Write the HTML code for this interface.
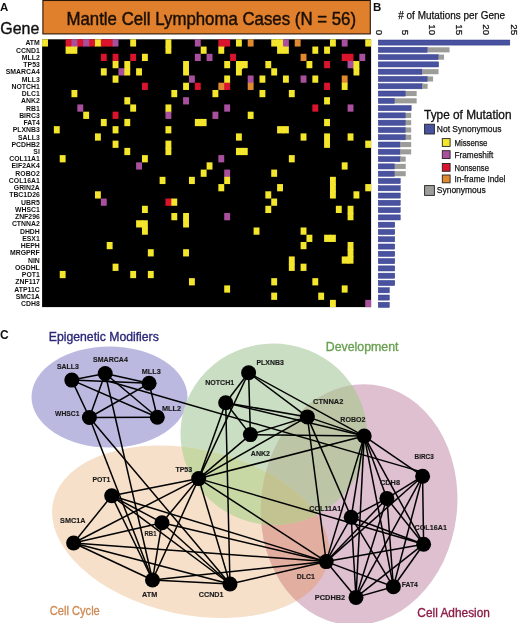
<!DOCTYPE html><html><head><meta charset="utf-8"><style>html,body{margin:0;padding:0;background:#fff;width:520px;height:623px;overflow:hidden}svg{display:block}text{font-family:"Liberation Sans",Arial,sans-serif}</style></head><body>
<svg width="520" height="623" viewBox="0 0 520 623">
<rect width="520" height="623" fill="#fff"/>
<text x="0" y="11.2" font-size="11.5" font-weight="bold" fill="#111">A</text>
<text x="0.3" y="33.6" font-size="16.8" fill="#111" stroke="#111" stroke-width="0.4" textLength="39" lengthAdjust="spacingAndGlyphs">Gene</text>
<rect x="42.9" y="0.5" width="327.4" height="33.4" fill="#e0802c" stroke="#2a1606" stroke-width="1.1"/>
<text x="66.5" y="24.6" font-size="17.8" fill="#1b0f05" stroke="#1b0f05" stroke-width="0.45" textLength="289.5" lengthAdjust="spacingAndGlyphs">Mantle Cell Lymphoma Cases (N = 56)</text>
<rect x="42.1" y="39.3" width="329.00" height="267.80" fill="#000"/>
<rect x="42.10" y="39.30" width="5.88" height="7.24" fill="#f4e62c"/>
<rect x="65.60" y="39.30" width="6.78" height="8.14" fill="#d9142c"/>
<rect x="71.47" y="39.30" width="6.78" height="8.14" fill="#a8509e"/>
<rect x="77.35" y="39.30" width="6.78" height="7.24" fill="#d9142c"/>
<rect x="83.22" y="39.30" width="6.78" height="7.24" fill="#a8509e"/>
<rect x="89.10" y="39.30" width="6.78" height="7.24" fill="#d9142c"/>
<rect x="94.97" y="39.30" width="6.78" height="7.24" fill="#f4e62c"/>
<rect x="100.85" y="39.30" width="6.78" height="7.24" fill="#d9142c"/>
<rect x="106.72" y="39.30" width="6.78" height="7.24" fill="#d9142c"/>
<rect x="112.60" y="39.30" width="5.88" height="7.24" fill="#a8509e"/>
<rect x="130.22" y="39.30" width="5.88" height="7.24" fill="#f4e62c"/>
<rect x="165.47" y="39.30" width="5.88" height="8.14" fill="#f4e62c"/>
<rect x="194.85" y="39.30" width="5.88" height="7.24" fill="#a8509e"/>
<rect x="218.35" y="39.30" width="6.78" height="8.14" fill="#d9142c"/>
<rect x="224.22" y="39.30" width="5.88" height="7.24" fill="#d9142c"/>
<rect x="235.97" y="39.30" width="5.88" height="7.24" fill="#f4e62c"/>
<rect x="247.72" y="39.30" width="5.88" height="7.24" fill="#e08a30"/>
<rect x="271.23" y="39.30" width="6.78" height="7.24" fill="#f4e62c"/>
<rect x="277.10" y="39.30" width="6.78" height="8.14" fill="#f4e62c"/>
<rect x="282.98" y="39.30" width="5.88" height="8.14" fill="#a8509e"/>
<rect x="294.73" y="39.30" width="5.88" height="7.24" fill="#e08a30"/>
<rect x="329.98" y="39.30" width="5.88" height="7.24" fill="#f4e62c"/>
<rect x="341.73" y="39.30" width="5.88" height="7.24" fill="#a8509e"/>
<rect x="365.23" y="39.30" width="5.88" height="7.24" fill="#f4e62c"/>
<rect x="65.60" y="46.54" width="6.78" height="7.24" fill="#f4e62c"/>
<rect x="71.47" y="46.54" width="5.88" height="7.24" fill="#f4e62c"/>
<rect x="165.47" y="46.54" width="5.88" height="7.24" fill="#f4e62c"/>
<rect x="200.72" y="46.54" width="5.88" height="7.24" fill="#f4e62c"/>
<rect x="218.35" y="46.54" width="5.88" height="7.24" fill="#f4e62c"/>
<rect x="277.10" y="46.54" width="6.78" height="7.24" fill="#f4e62c"/>
<rect x="282.98" y="46.54" width="5.88" height="7.24" fill="#f4e62c"/>
<rect x="312.35" y="46.54" width="5.88" height="7.24" fill="#f4e62c"/>
<rect x="324.10" y="46.54" width="5.88" height="7.24" fill="#f4e62c"/>
<rect x="100.85" y="53.78" width="5.88" height="7.24" fill="#d9142c"/>
<rect x="112.60" y="53.78" width="5.88" height="8.14" fill="#d9142c"/>
<rect x="130.22" y="53.78" width="5.88" height="7.24" fill="#d9142c"/>
<rect x="141.97" y="53.78" width="5.88" height="7.24" fill="#f4e62c"/>
<rect x="194.85" y="53.78" width="5.88" height="7.24" fill="#a8509e"/>
<rect x="206.60" y="53.78" width="5.88" height="7.24" fill="#a8509e"/>
<rect x="230.10" y="53.78" width="5.88" height="7.24" fill="#d9142c"/>
<rect x="300.60" y="53.78" width="5.88" height="7.24" fill="#e08a30"/>
<rect x="341.73" y="53.78" width="6.78" height="7.24" fill="#d9142c"/>
<rect x="347.60" y="53.78" width="5.88" height="8.14" fill="#d9142c"/>
<rect x="359.35" y="53.78" width="5.88" height="7.24" fill="#a8509e"/>
<rect x="112.60" y="61.01" width="5.88" height="7.24" fill="#f4e62c"/>
<rect x="124.35" y="61.01" width="5.88" height="8.14" fill="#f4e62c"/>
<rect x="183.10" y="61.01" width="5.88" height="8.14" fill="#f4e62c"/>
<rect x="224.22" y="61.01" width="5.88" height="7.24" fill="#f4e62c"/>
<rect x="235.97" y="61.01" width="6.78" height="8.14" fill="#f4e62c"/>
<rect x="241.85" y="61.01" width="5.88" height="7.24" fill="#f4e62c"/>
<rect x="265.35" y="61.01" width="5.88" height="7.24" fill="#f4e62c"/>
<rect x="306.48" y="61.01" width="5.88" height="7.24" fill="#f4e62c"/>
<rect x="324.10" y="61.01" width="5.88" height="7.24" fill="#d9142c"/>
<rect x="347.60" y="61.01" width="6.78" height="7.24" fill="#a8509e"/>
<rect x="353.48" y="61.01" width="5.88" height="8.14" fill="#f4e62c"/>
<rect x="100.85" y="68.25" width="5.88" height="7.24" fill="#f4e62c"/>
<rect x="118.47" y="68.25" width="6.78" height="7.24" fill="#a8509e"/>
<rect x="124.35" y="68.25" width="5.88" height="7.24" fill="#f4e62c"/>
<rect x="136.10" y="68.25" width="5.88" height="7.24" fill="#f4e62c"/>
<rect x="183.10" y="68.25" width="5.88" height="7.24" fill="#f4e62c"/>
<rect x="235.97" y="68.25" width="5.88" height="7.24" fill="#f4e62c"/>
<rect x="271.23" y="68.25" width="5.88" height="7.24" fill="#f4e62c"/>
<rect x="353.48" y="68.25" width="5.88" height="7.24" fill="#f4e62c"/>
<rect x="112.60" y="75.49" width="5.88" height="7.24" fill="#f4e62c"/>
<rect x="188.97" y="75.49" width="5.88" height="7.24" fill="#a8509e"/>
<rect x="224.22" y="75.49" width="5.88" height="8.14" fill="#f4e62c"/>
<rect x="247.72" y="75.49" width="5.88" height="8.14" fill="#a8509e"/>
<rect x="259.48" y="75.49" width="5.88" height="7.24" fill="#f4e62c"/>
<rect x="282.98" y="75.49" width="5.88" height="7.24" fill="#f4e62c"/>
<rect x="300.60" y="75.49" width="5.88" height="7.24" fill="#a8509e"/>
<rect x="312.35" y="75.49" width="5.88" height="7.24" fill="#f4e62c"/>
<rect x="341.73" y="75.49" width="5.88" height="8.14" fill="#e08a30"/>
<rect x="141.97" y="82.73" width="5.88" height="7.24" fill="#d9142c"/>
<rect x="183.10" y="82.73" width="5.88" height="7.24" fill="#f4e62c"/>
<rect x="194.85" y="82.73" width="5.88" height="7.24" fill="#d9142c"/>
<rect x="218.35" y="82.73" width="6.78" height="7.24" fill="#e08a30"/>
<rect x="224.22" y="82.73" width="5.88" height="7.24" fill="#d9142c"/>
<rect x="247.72" y="82.73" width="5.88" height="7.24" fill="#e08a30"/>
<rect x="324.10" y="82.73" width="5.88" height="7.24" fill="#d9142c"/>
<rect x="341.73" y="82.73" width="5.88" height="7.24" fill="#f4e62c"/>
<rect x="71.47" y="89.96" width="5.88" height="7.24" fill="#f4e62c"/>
<rect x="171.35" y="89.96" width="5.88" height="7.24" fill="#f4e62c"/>
<rect x="212.47" y="89.96" width="5.88" height="7.24" fill="#f4e62c"/>
<rect x="259.48" y="89.96" width="5.88" height="7.24" fill="#f4e62c"/>
<rect x="288.85" y="89.96" width="5.88" height="7.24" fill="#f4e62c"/>
<rect x="124.35" y="97.20" width="5.88" height="7.24" fill="#f4e62c"/>
<rect x="183.10" y="97.20" width="5.88" height="7.24" fill="#a8509e"/>
<rect x="324.10" y="97.20" width="5.88" height="7.24" fill="#f4e62c"/>
<rect x="77.35" y="104.44" width="5.88" height="7.24" fill="#a8509e"/>
<rect x="130.22" y="104.44" width="5.88" height="7.24" fill="#f4e62c"/>
<rect x="165.47" y="104.44" width="5.88" height="8.14" fill="#f4e62c"/>
<rect x="224.22" y="104.44" width="5.88" height="7.24" fill="#a8509e"/>
<rect x="312.35" y="104.44" width="5.88" height="7.24" fill="#d9142c"/>
<rect x="347.60" y="104.44" width="5.88" height="7.24" fill="#a8509e"/>
<rect x="83.22" y="111.68" width="5.88" height="7.24" fill="#f4e62c"/>
<rect x="112.60" y="111.68" width="5.88" height="7.24" fill="#d9142c"/>
<rect x="165.47" y="111.68" width="5.88" height="7.24" fill="#a8509e"/>
<rect x="212.47" y="111.68" width="5.88" height="7.24" fill="#a8509e"/>
<rect x="247.72" y="111.68" width="5.88" height="7.24" fill="#f4e62c"/>
<rect x="100.85" y="118.92" width="5.88" height="7.24" fill="#f4e62c"/>
<rect x="124.35" y="118.92" width="5.88" height="7.24" fill="#f4e62c"/>
<rect x="194.85" y="118.92" width="6.78" height="7.24" fill="#f4e62c"/>
<rect x="200.72" y="118.92" width="5.88" height="7.24" fill="#f4e62c"/>
<rect x="324.10" y="118.92" width="5.88" height="7.24" fill="#f4e62c"/>
<rect x="53.85" y="126.15" width="5.88" height="7.24" fill="#f4e62c"/>
<rect x="112.60" y="126.15" width="5.88" height="7.24" fill="#f4e62c"/>
<rect x="165.47" y="126.15" width="5.88" height="7.24" fill="#f4e62c"/>
<rect x="277.10" y="126.15" width="6.78" height="7.24" fill="#f4e62c"/>
<rect x="282.98" y="126.15" width="5.88" height="7.24" fill="#f4e62c"/>
<rect x="94.97" y="133.39" width="5.88" height="7.24" fill="#f4e62c"/>
<rect x="235.97" y="133.39" width="5.88" height="7.24" fill="#f4e62c"/>
<rect x="300.60" y="133.39" width="5.88" height="7.24" fill="#f4e62c"/>
<rect x="324.10" y="133.39" width="5.88" height="8.14" fill="#f4e62c"/>
<rect x="347.60" y="133.39" width="5.88" height="7.24" fill="#f4e62c"/>
<rect x="112.60" y="140.63" width="5.88" height="7.24" fill="#f4e62c"/>
<rect x="165.47" y="140.63" width="5.88" height="8.14" fill="#f4e62c"/>
<rect x="324.10" y="140.63" width="5.88" height="7.24" fill="#f4e62c"/>
<rect x="365.23" y="140.63" width="5.88" height="7.24" fill="#f4e62c"/>
<rect x="124.35" y="147.87" width="5.88" height="7.24" fill="#f4e62c"/>
<rect x="165.47" y="147.87" width="5.88" height="7.24" fill="#f4e62c"/>
<rect x="235.97" y="147.87" width="6.78" height="7.24" fill="#f4e62c"/>
<rect x="241.85" y="147.87" width="5.88" height="7.24" fill="#f4e62c"/>
<rect x="59.73" y="155.11" width="5.88" height="7.24" fill="#f4e62c"/>
<rect x="141.97" y="155.11" width="5.88" height="7.24" fill="#f4e62c"/>
<rect x="218.35" y="155.11" width="5.88" height="7.24" fill="#a8509e"/>
<rect x="288.85" y="155.11" width="5.88" height="7.24" fill="#f4e62c"/>
<rect x="136.10" y="162.34" width="5.88" height="7.24" fill="#a8509e"/>
<rect x="206.60" y="162.34" width="5.88" height="7.24" fill="#f4e62c"/>
<rect x="341.73" y="162.34" width="5.88" height="7.24" fill="#f4e62c"/>
<rect x="200.72" y="169.58" width="5.88" height="7.24" fill="#f4e62c"/>
<rect x="224.22" y="169.58" width="5.88" height="8.14" fill="#a8509e"/>
<rect x="271.23" y="169.58" width="5.88" height="7.24" fill="#f4e62c"/>
<rect x="159.60" y="176.82" width="5.88" height="7.24" fill="#f4e62c"/>
<rect x="188.97" y="176.82" width="5.88" height="7.24" fill="#f4e62c"/>
<rect x="224.22" y="176.82" width="5.88" height="7.24" fill="#f4e62c"/>
<rect x="329.98" y="176.82" width="5.88" height="8.14" fill="#f4e62c"/>
<rect x="218.35" y="184.06" width="5.88" height="7.24" fill="#f4e62c"/>
<rect x="277.10" y="184.06" width="5.88" height="7.24" fill="#f4e62c"/>
<rect x="329.98" y="184.06" width="5.88" height="8.14" fill="#f4e62c"/>
<rect x="365.23" y="184.06" width="5.88" height="7.24" fill="#f4e62c"/>
<rect x="94.97" y="191.29" width="5.88" height="7.24" fill="#f4e62c"/>
<rect x="265.35" y="191.29" width="5.88" height="7.24" fill="#f4e62c"/>
<rect x="329.98" y="191.29" width="5.88" height="7.24" fill="#f4e62c"/>
<rect x="353.48" y="191.29" width="5.88" height="7.24" fill="#f4e62c"/>
<rect x="100.85" y="198.53" width="5.88" height="7.24" fill="#a8509e"/>
<rect x="165.47" y="198.53" width="6.78" height="7.24" fill="#d9142c"/>
<rect x="171.35" y="198.53" width="5.88" height="7.24" fill="#f4e62c"/>
<rect x="271.23" y="198.53" width="5.88" height="7.24" fill="#f4e62c"/>
<rect x="141.97" y="205.77" width="5.88" height="7.24" fill="#f4e62c"/>
<rect x="265.35" y="205.77" width="5.88" height="7.24" fill="#f4e62c"/>
<rect x="335.85" y="205.77" width="5.88" height="7.24" fill="#f4e62c"/>
<rect x="347.60" y="205.77" width="5.88" height="8.14" fill="#f4e62c"/>
<rect x="171.35" y="213.01" width="5.88" height="7.24" fill="#f4e62c"/>
<rect x="183.10" y="213.01" width="5.88" height="8.14" fill="#f4e62c"/>
<rect x="224.22" y="213.01" width="5.88" height="7.24" fill="#a8509e"/>
<rect x="347.60" y="213.01" width="5.88" height="7.24" fill="#f4e62c"/>
<rect x="136.10" y="220.25" width="6.78" height="7.24" fill="#f4e62c"/>
<rect x="141.97" y="220.25" width="5.88" height="8.14" fill="#f4e62c"/>
<rect x="183.10" y="220.25" width="5.88" height="7.24" fill="#f4e62c"/>
<rect x="141.97" y="227.48" width="5.88" height="7.24" fill="#f4e62c"/>
<rect x="253.60" y="227.48" width="5.88" height="7.24" fill="#f4e62c"/>
<rect x="300.60" y="227.48" width="5.88" height="7.24" fill="#f4e62c"/>
<rect x="306.48" y="234.72" width="5.88" height="7.24" fill="#f4e62c"/>
<rect x="324.10" y="234.72" width="6.78" height="7.24" fill="#f4e62c"/>
<rect x="329.98" y="234.72" width="5.88" height="7.24" fill="#f4e62c"/>
<rect x="106.72" y="241.96" width="5.88" height="7.24" fill="#f4e62c"/>
<rect x="300.60" y="241.96" width="5.88" height="7.24" fill="#f4e62c"/>
<rect x="347.60" y="241.96" width="5.88" height="8.14" fill="#f4e62c"/>
<rect x="147.85" y="249.20" width="5.88" height="7.24" fill="#f4e62c"/>
<rect x="183.10" y="249.20" width="5.88" height="7.24" fill="#f4e62c"/>
<rect x="347.60" y="249.20" width="5.88" height="8.14" fill="#f4e62c"/>
<rect x="288.85" y="256.44" width="5.88" height="8.14" fill="#f4e62c"/>
<rect x="341.73" y="256.44" width="6.78" height="7.24" fill="#f4e62c"/>
<rect x="347.60" y="256.44" width="5.88" height="7.24" fill="#f4e62c"/>
<rect x="112.60" y="263.67" width="5.88" height="7.24" fill="#f4e62c"/>
<rect x="288.85" y="263.67" width="5.88" height="7.24" fill="#f4e62c"/>
<rect x="300.60" y="263.67" width="5.88" height="7.24" fill="#f4e62c"/>
<rect x="59.73" y="270.91" width="5.88" height="7.24" fill="#f4e62c"/>
<rect x="130.22" y="270.91" width="5.88" height="7.24" fill="#f4e62c"/>
<rect x="147.85" y="270.91" width="5.88" height="7.24" fill="#f4e62c"/>
<rect x="188.97" y="278.15" width="5.88" height="7.24" fill="#f4e62c"/>
<rect x="271.23" y="278.15" width="5.88" height="7.24" fill="#f4e62c"/>
<rect x="312.35" y="278.15" width="5.88" height="7.24" fill="#f4e62c"/>
<rect x="224.22" y="285.39" width="5.88" height="7.24" fill="#f4e62c"/>
<rect x="341.73" y="285.39" width="5.88" height="7.24" fill="#f4e62c"/>
<rect x="271.23" y="292.62" width="5.88" height="7.24" fill="#f4e62c"/>
<rect x="318.23" y="292.62" width="5.88" height="7.24" fill="#f4e62c"/>
<rect x="329.98" y="299.86" width="5.88" height="7.24" fill="#f4e62c"/>
<rect x="365.23" y="299.86" width="5.88" height="7.24" fill="#a8509e"/>
<g transform="translate(39.8 0) scale(0.92 1)" font-size="7.5" font-weight="bold" fill="#111" text-anchor="end">
<text x="0" y="45.44">ATM</text>
<text x="0" y="52.68">CCND1</text>
<text x="0" y="59.91">MLL2</text>
<text x="0" y="67.15">TP53</text>
<text x="0" y="74.39">SMARCA4</text>
<text x="0" y="81.63">MLL3</text>
<text x="0" y="88.86">NOTCH1</text>
<text x="0" y="96.10">DLC1</text>
<text x="0" y="103.34">ANK2</text>
<text x="0" y="110.58">RB1</text>
<text x="0" y="117.82">BIRC3</text>
<text x="0" y="125.05">FAT4</text>
<text x="0" y="132.29">PLXNB3</text>
<text x="0" y="139.53">SALL3</text>
<text x="0" y="146.77">PCDHB2</text>
<text x="0" y="154.01">SI</text>
<text x="0" y="161.24">COL11A1</text>
<text x="0" y="168.48">EIF2AK4</text>
<text x="0" y="175.72">ROBO2</text>
<text x="0" y="182.96">COL16A1</text>
<text x="0" y="190.19">GRIN2A</text>
<text x="0" y="197.43">TBC1D26</text>
<text x="0" y="204.67">UBR5</text>
<text x="0" y="211.91">WHSC1</text>
<text x="0" y="219.15">ZNF296</text>
<text x="0" y="226.38">CTNNA2</text>
<text x="0" y="233.62">DHDH</text>
<text x="0" y="240.86">ESX1</text>
<text x="0" y="248.10">HEPH</text>
<text x="0" y="255.34">MRGPRF</text>
<text x="0" y="262.57">NIN</text>
<text x="0" y="269.81">OGDHL</text>
<text x="0" y="277.05">POT1</text>
<text x="0" y="284.29">ZNF117</text>
<text x="0" y="291.52">ATP11C</text>
<text x="0" y="298.76">SMC1A</text>
<text x="0" y="306.00">CDH8</text>
</g>
<text x="373" y="11.2" font-size="11.5" font-weight="bold" fill="#111">B</text>
<text x="398.3" y="19" font-size="10.6" fill="#111" stroke="#111" stroke-width="0.25" textLength="106.7" lengthAdjust="spacingAndGlyphs">&#35; of Mutations per Gene</text>
<text transform="translate(376.3,35.2) rotate(90)" font-size="9.8" fill="#111" stroke="#111" stroke-width="0.25" text-anchor="end">0</text>
<text transform="translate(402.3,35.2) rotate(90)" font-size="9.8" fill="#111" stroke="#111" stroke-width="0.25" text-anchor="end">5</text>
<text transform="translate(429.0,35.2) rotate(90)" font-size="9.8" fill="#111" stroke="#111" stroke-width="0.25" text-anchor="end">10</text>
<text transform="translate(456.0,35.2) rotate(90)" font-size="9.8" fill="#111" stroke="#111" stroke-width="0.25" text-anchor="end">15</text>
<text transform="translate(483.4,35.2) rotate(90)" font-size="9.8" fill="#111" stroke="#111" stroke-width="0.25" text-anchor="end">20</text>
<text transform="translate(510.8,35.2) rotate(90)" font-size="9.8" fill="#111" stroke="#111" stroke-width="0.25" text-anchor="end">25</text>
<rect x="378.3" y="40.00" width="131.52" height="5.1" fill="#48529f" stroke="#30388a" stroke-width="0.5"/>
<rect x="378.3" y="47.29" width="49.32" height="5.1" fill="#48529f" stroke="#30388a" stroke-width="0.5"/>
<rect x="427.62" y="47.29" width="21.92" height="5.1" fill="#9c9c98"/>
<rect x="378.3" y="54.57" width="60.28" height="5.1" fill="#48529f" stroke="#30388a" stroke-width="0.5"/>
<rect x="438.58" y="54.57" width="5.48" height="5.1" fill="#9c9c98"/>
<rect x="378.3" y="61.86" width="60.28" height="5.1" fill="#48529f" stroke="#30388a" stroke-width="0.5"/>
<rect x="378.3" y="69.14" width="43.84" height="5.1" fill="#48529f" stroke="#30388a" stroke-width="0.5"/>
<rect x="422.14" y="69.14" width="16.44" height="5.1" fill="#9c9c98"/>
<rect x="378.3" y="76.43" width="49.32" height="5.1" fill="#48529f" stroke="#30388a" stroke-width="0.5"/>
<rect x="427.62" y="76.43" width="5.48" height="5.1" fill="#9c9c98"/>
<rect x="378.3" y="83.72" width="43.84" height="5.1" fill="#48529f" stroke="#30388a" stroke-width="0.5"/>
<rect x="422.14" y="83.72" width="5.48" height="5.1" fill="#9c9c98"/>
<rect x="378.3" y="91.00" width="27.40" height="5.1" fill="#48529f" stroke="#30388a" stroke-width="0.5"/>
<rect x="405.70" y="91.00" width="10.96" height="5.1" fill="#9c9c98"/>
<rect x="378.3" y="98.29" width="16.44" height="5.1" fill="#48529f" stroke="#30388a" stroke-width="0.5"/>
<rect x="394.74" y="98.29" width="21.92" height="5.1" fill="#9c9c98"/>
<rect x="378.3" y="105.58" width="32.88" height="5.1" fill="#48529f" stroke="#30388a" stroke-width="0.5"/>
<rect x="378.3" y="112.86" width="27.40" height="5.1" fill="#48529f" stroke="#30388a" stroke-width="0.5"/>
<rect x="405.70" y="112.86" width="5.48" height="5.1" fill="#9c9c98"/>
<rect x="378.3" y="120.15" width="27.40" height="5.1" fill="#48529f" stroke="#30388a" stroke-width="0.5"/>
<rect x="405.70" y="120.15" width="5.48" height="5.1" fill="#9c9c98"/>
<rect x="378.3" y="127.43" width="27.40" height="5.1" fill="#48529f" stroke="#30388a" stroke-width="0.5"/>
<rect x="405.70" y="127.43" width="5.48" height="5.1" fill="#9c9c98"/>
<rect x="378.3" y="134.72" width="27.40" height="5.1" fill="#48529f" stroke="#30388a" stroke-width="0.5"/>
<rect x="405.70" y="134.72" width="5.48" height="5.1" fill="#9c9c98"/>
<rect x="378.3" y="142.01" width="21.92" height="5.1" fill="#48529f" stroke="#30388a" stroke-width="0.5"/>
<rect x="400.22" y="142.01" width="10.96" height="5.1" fill="#9c9c98"/>
<rect x="378.3" y="149.29" width="21.92" height="5.1" fill="#48529f" stroke="#30388a" stroke-width="0.5"/>
<rect x="400.22" y="149.29" width="10.96" height="5.1" fill="#9c9c98"/>
<rect x="378.3" y="156.58" width="21.92" height="5.1" fill="#48529f" stroke="#30388a" stroke-width="0.5"/>
<rect x="400.22" y="156.58" width="5.48" height="5.1" fill="#9c9c98"/>
<rect x="378.3" y="163.86" width="16.44" height="5.1" fill="#48529f" stroke="#30388a" stroke-width="0.5"/>
<rect x="394.74" y="163.86" width="10.96" height="5.1" fill="#9c9c98"/>
<rect x="378.3" y="171.15" width="16.44" height="5.1" fill="#48529f" stroke="#30388a" stroke-width="0.5"/>
<rect x="394.74" y="171.15" width="10.96" height="5.1" fill="#9c9c98"/>
<rect x="378.3" y="178.44" width="21.92" height="5.1" fill="#48529f" stroke="#30388a" stroke-width="0.5"/>
<rect x="378.3" y="185.72" width="21.92" height="5.1" fill="#48529f" stroke="#30388a" stroke-width="0.5"/>
<rect x="378.3" y="193.01" width="21.92" height="5.1" fill="#48529f" stroke="#30388a" stroke-width="0.5"/>
<rect x="378.3" y="200.29" width="21.92" height="5.1" fill="#48529f" stroke="#30388a" stroke-width="0.5"/>
<rect x="378.3" y="207.58" width="21.92" height="5.1" fill="#48529f" stroke="#30388a" stroke-width="0.5"/>
<rect x="378.3" y="214.87" width="21.92" height="5.1" fill="#48529f" stroke="#30388a" stroke-width="0.5"/>
<rect x="378.3" y="222.15" width="16.44" height="5.1" fill="#48529f" stroke="#30388a" stroke-width="0.5"/>
<rect x="378.3" y="229.44" width="16.44" height="5.1" fill="#48529f" stroke="#30388a" stroke-width="0.5"/>
<rect x="378.3" y="236.73" width="16.44" height="5.1" fill="#48529f" stroke="#30388a" stroke-width="0.5"/>
<rect x="378.3" y="244.01" width="16.44" height="5.1" fill="#48529f" stroke="#30388a" stroke-width="0.5"/>
<rect x="378.3" y="251.30" width="16.44" height="5.1" fill="#48529f" stroke="#30388a" stroke-width="0.5"/>
<rect x="378.3" y="258.58" width="16.44" height="5.1" fill="#48529f" stroke="#30388a" stroke-width="0.5"/>
<rect x="378.3" y="265.87" width="16.44" height="5.1" fill="#48529f" stroke="#30388a" stroke-width="0.5"/>
<rect x="378.3" y="273.16" width="16.44" height="5.1" fill="#48529f" stroke="#30388a" stroke-width="0.5"/>
<rect x="378.3" y="280.44" width="16.44" height="5.1" fill="#48529f" stroke="#30388a" stroke-width="0.5"/>
<rect x="378.3" y="287.73" width="10.96" height="5.1" fill="#48529f" stroke="#30388a" stroke-width="0.5"/>
<rect x="378.3" y="295.01" width="10.96" height="5.1" fill="#48529f" stroke="#30388a" stroke-width="0.5"/>
<rect x="378.3" y="302.30" width="10.96" height="5.1" fill="#48529f" stroke="#30388a" stroke-width="0.5"/>
<text x="424.1" y="118.7" font-size="12.3" fill="#111" stroke="#111" stroke-width="0.3" textLength="87.4" lengthAdjust="spacingAndGlyphs">Type of Mutation</text>
<rect x="424.6" y="124.2" width="9.8" height="9.8" fill="#48529f" stroke="#222" stroke-width="0.9"/>
<text x="436.8" y="132" font-size="9.6" fill="#111" stroke="#111" stroke-width="0.25" textLength="64.6" lengthAdjust="spacingAndGlyphs">Not Synonymous</text>
<rect x="442.3" y="138.60000000000002" width="7.8" height="7.8" fill="#f4e62c" stroke="#222" stroke-width="0.9"/>
<text x="454.4" y="145.9" font-size="9.6" fill="#111" stroke="#111" stroke-width="0.25" textLength="33" lengthAdjust="spacingAndGlyphs">Missense</text>
<rect x="442.3" y="150.70000000000002" width="7.8" height="7.8" fill="#a8509e" stroke="#222" stroke-width="0.9"/>
<text x="454.4" y="158.0" font-size="9.6" fill="#111" stroke="#111" stroke-width="0.25" textLength="39" lengthAdjust="spacingAndGlyphs">Frameshift</text>
<rect x="442.3" y="163.5" width="7.8" height="7.8" fill="#d9142c" stroke="#222" stroke-width="0.9"/>
<text x="454.4" y="170.8" font-size="9.6" fill="#111" stroke="#111" stroke-width="0.25" textLength="34.5" lengthAdjust="spacingAndGlyphs">Nonsense</text>
<rect x="442.3" y="175.0" width="7.8" height="7.8" fill="#e08a30" stroke="#222" stroke-width="0.9"/>
<text x="454.4" y="182.3" font-size="9.6" fill="#111" stroke="#111" stroke-width="0.25" textLength="51" lengthAdjust="spacingAndGlyphs">In-frame Indel</text>
<rect x="424.6" y="185.6" width="9.8" height="9.8" fill="#9c9c98" stroke="#222" stroke-width="0.9"/>
<text x="436.8" y="193.3" font-size="9.6" fill="#111" stroke="#111" stroke-width="0.25" textLength="49" lengthAdjust="spacingAndGlyphs">Synonymous</text>
<defs>
<clipPath id="cP"><ellipse cx="109.5" cy="397" rx="78" ry="50.5"/></clipPath>
<clipPath id="cG"><ellipse cx="273.8" cy="434.2" rx="93.3" ry="90.6" transform="rotate(4.4 273.8 434.2)"/></clipPath>
<clipPath id="cO"><ellipse cx="190.7" cy="531.8" rx="140.7" ry="82.8" transform="rotate(12.3 190.7 531.8)"/></clipPath>
<clipPath id="cK"><ellipse cx="359.1" cy="504.6" rx="98" ry="120.7" transform="rotate(6.8 359.1 504.6)"/></clipPath>
</defs>
<ellipse cx="109.5" cy="397" rx="78" ry="50.5" fill="#bbb9df"/>
<ellipse cx="273.8" cy="434.2" rx="93.3" ry="90.6" transform="rotate(4.4 273.8 434.2)" fill="#c9dec3"/>
<ellipse cx="190.7" cy="531.8" rx="140.7" ry="82.8" transform="rotate(12.3 190.7 531.8)" fill="#f6e0ca"/>
<ellipse cx="359.1" cy="504.6" rx="98" ry="120.7" transform="rotate(6.8 359.1 504.6)" fill="#dec0d0"/>
<g clip-path="url(#cG)"><ellipse cx="359.1" cy="504.6" rx="98" ry="120.7" transform="rotate(6.8 359.1 504.6)" fill="#bcc6a6"/></g>
<g clip-path="url(#cO)"><ellipse cx="359.1" cy="504.6" rx="98" ry="120.7" transform="rotate(6.8 359.1 504.6)" fill="#e2ae9f"/></g>
<g clip-path="url(#cG)"><ellipse cx="190.7" cy="531.8" rx="140.7" ry="82.8" transform="rotate(12.3 190.7 531.8)" fill="#c8d8a5"/></g>
<g clip-path="url(#cG)"><g clip-path="url(#cO)"><ellipse cx="359.1" cy="504.6" rx="98" ry="120.7" transform="rotate(6.8 359.1 504.6)" fill="#c3c391"/></g></g>
<text x="0" y="339.3" font-size="12" font-weight="bold" fill="#111">C</text>
<text x="48.8" y="340.8" font-size="12.5" fill="#2b2878" stroke="#2b2878" stroke-width="0.35" textLength="110" lengthAdjust="spacingAndGlyphs">Epigenetic Modifiers</text>
<text x="325.8" y="350.8" font-size="12.5" fill="#6aa052" stroke="#6aa052" stroke-width="0.35" textLength="72.7" lengthAdjust="spacingAndGlyphs">Development</text>
<text x="49.8" y="614.6" font-size="12.5" fill="#cf8c58" stroke="#cf8c58" stroke-width="0.35" textLength="50" lengthAdjust="spacingAndGlyphs">Cell Cycle</text>
<text x="417.3" y="617.4" font-size="12.5" fill="#8c1e46" stroke="#8c1e46" stroke-width="0.35" textLength="72.7" lengthAdjust="spacingAndGlyphs">Cell Adhesion</text>
<g stroke="#000" stroke-width="1.5" fill="none">
<line x1="250.4" y1="434.6" x2="307.4" y2="416.9"/>
<line x1="250.4" y1="434.6" x2="225.7" y2="402.7"/>
<line x1="250.4" y1="434.6" x2="248.6" y2="372.8"/>
<line x1="250.4" y1="434.6" x2="364.2" y2="436.1"/>
<line x1="250.4" y1="434.6" x2="198.7" y2="478.6"/>
<line x1="152.5" y1="580" x2="230" y2="584"/>
<line x1="152.5" y1="580" x2="326.2" y2="561.6"/>
<line x1="152.5" y1="580" x2="111.7" y2="495.8"/>
<line x1="152.5" y1="580" x2="162" y2="522.7"/>
<line x1="152.5" y1="580" x2="105.2" y2="373.5"/>
<line x1="152.5" y1="580" x2="73.6" y2="543"/>
<line x1="152.5" y1="580" x2="198.7" y2="478.6"/>
<line x1="152.5" y1="580" x2="89.4" y2="417.5"/>
<line x1="422.6" y1="476.2" x2="386.9" y2="498.4"/>
<line x1="422.6" y1="476.2" x2="423.6" y2="544.2"/>
<line x1="422.6" y1="476.2" x2="326.2" y2="561.6"/>
<line x1="422.6" y1="476.2" x2="393.4" y2="586.8"/>
<line x1="422.6" y1="476.2" x2="356" y2="597.4"/>
<line x1="422.6" y1="476.2" x2="364.2" y2="436.1"/>
<line x1="422.6" y1="472.1" x2="105.2" y2="380.3"/>
<line x1="230" y1="584" x2="326.2" y2="561.6"/>
<line x1="230" y1="584" x2="225.7" y2="402.7"/>
<line x1="230" y1="584" x2="111.7" y2="495.8"/>
<line x1="230" y1="584" x2="162" y2="522.7"/>
<line x1="230" y1="584" x2="73.6" y2="543"/>
<line x1="230" y1="584" x2="198.7" y2="478.6"/>
<line x1="230" y1="584" x2="89.4" y2="417.5"/>
<line x1="386.9" y1="498.4" x2="351.2" y2="517.2"/>
<line x1="386.9" y1="498.4" x2="423.6" y2="544.2"/>
<line x1="386.9" y1="498.4" x2="326.2" y2="561.6"/>
<line x1="386.9" y1="498.4" x2="393.4" y2="586.8"/>
<line x1="386.9" y1="498.4" x2="356" y2="597.4"/>
<line x1="386.9" y1="498.4" x2="364.2" y2="436.1"/>
<line x1="351.2" y1="517.2" x2="423.6" y2="544.2"/>
<line x1="351.2" y1="517.2" x2="307.4" y2="416.9"/>
<line x1="351.2" y1="517.2" x2="326.2" y2="561.6"/>
<line x1="351.2" y1="517.2" x2="393.4" y2="586.8"/>
<line x1="351.2" y1="517.2" x2="356" y2="597.4"/>
<line x1="351.2" y1="517.2" x2="364.2" y2="436.1"/>
<line x1="423.6" y1="544.2" x2="326.2" y2="561.6"/>
<line x1="423.6" y1="544.2" x2="393.4" y2="586.8"/>
<line x1="423.6" y1="544.2" x2="356" y2="597.4"/>
<line x1="423.6" y1="544.2" x2="364.2" y2="436.1"/>
<line x1="423.6" y1="544.2" x2="198.7" y2="478.6"/>
<line x1="307.4" y1="416.9" x2="326.2" y2="561.6"/>
<line x1="307.4" y1="416.9" x2="225.7" y2="402.7"/>
<line x1="307.4" y1="416.9" x2="248.6" y2="372.8"/>
<line x1="307.4" y1="416.9" x2="364.2" y2="436.1"/>
<line x1="307.4" y1="416.9" x2="198.7" y2="478.6"/>
<line x1="326.2" y1="561.6" x2="393.4" y2="586.8"/>
<line x1="326.2" y1="561.6" x2="356" y2="597.4"/>
<line x1="326.2" y1="561.6" x2="111.7" y2="495.8"/>
<line x1="326.2" y1="561.6" x2="162" y2="522.7"/>
<line x1="326.2" y1="561.6" x2="364.2" y2="436.1"/>
<line x1="326.2" y1="561.6" x2="73.6" y2="543"/>
<line x1="326.2" y1="561.6" x2="198.7" y2="478.6"/>
<line x1="393.4" y1="586.8" x2="356" y2="597.4"/>
<line x1="393.4" y1="586.8" x2="364.2" y2="436.1"/>
<line x1="157.3" y1="417.3" x2="149.1" y2="383.3"/>
<line x1="157.3" y1="417.3" x2="71.8" y2="380.1"/>
<line x1="157.3" y1="417.3" x2="105.2" y2="373.5"/>
<line x1="157.3" y1="417.3" x2="89.4" y2="417.5"/>
<line x1="149.1" y1="383.3" x2="71.8" y2="380.1"/>
<line x1="149.1" y1="383.3" x2="105.2" y2="373.5"/>
<line x1="149.1" y1="383.3" x2="89.4" y2="417.5"/>
<line x1="225.7" y1="402.7" x2="248.6" y2="372.8"/>
<line x1="225.7" y1="402.7" x2="364.2" y2="436.1"/>
<line x1="225.7" y1="402.7" x2="198.7" y2="478.6"/>
<line x1="356" y1="597.4" x2="364.2" y2="436.1"/>
<line x1="248.6" y1="372.8" x2="364.2" y2="436.1"/>
<line x1="248.6" y1="372.8" x2="198.7" y2="478.6"/>
<line x1="111.7" y1="495.8" x2="162" y2="522.7"/>
<line x1="111.7" y1="495.8" x2="73.6" y2="543"/>
<line x1="111.7" y1="495.8" x2="198.7" y2="478.6"/>
<line x1="162" y1="522.7" x2="73.6" y2="543"/>
<line x1="162" y1="522.7" x2="198.7" y2="478.6"/>
<line x1="364.2" y1="436.1" x2="198.7" y2="478.6"/>
<line x1="71.8" y1="380.1" x2="105.2" y2="373.5"/>
<line x1="71.8" y1="380.1" x2="89.4" y2="417.5"/>
<line x1="105.2" y1="373.5" x2="89.4" y2="417.5"/>
<line x1="73.6" y1="543" x2="198.7" y2="478.6"/>
</g>
<g fill="#000">
<circle cx="71.8" cy="380.1" r="7.5"/>
<circle cx="105.2" cy="373.5" r="7.5"/>
<circle cx="149.1" cy="383.3" r="7.5"/>
<circle cx="89.4" cy="417.5" r="7.5"/>
<circle cx="157.3" cy="417.3" r="7.5"/>
<circle cx="248.6" cy="372.8" r="7.5"/>
<circle cx="225.7" cy="402.7" r="7.5"/>
<circle cx="307.4" cy="416.9" r="7.5"/>
<circle cx="364.2" cy="436.1" r="7.5"/>
<circle cx="250.4" cy="434.6" r="7.5"/>
<circle cx="198.7" cy="478.6" r="7.5"/>
<circle cx="111.7" cy="495.8" r="7.5"/>
<circle cx="73.6" cy="543" r="7.5"/>
<circle cx="162" cy="522.7" r="7.5"/>
<circle cx="152.5" cy="580" r="7.5"/>
<circle cx="230" cy="584" r="7.5"/>
<circle cx="326.2" cy="561.6" r="7.5"/>
<circle cx="351.2" cy="517.2" r="7.5"/>
<circle cx="386.9" cy="498.4" r="7.5"/>
<circle cx="422.6" cy="476.2" r="7.5"/>
<circle cx="423.6" cy="544.2" r="7.5"/>
<circle cx="393.4" cy="586.8" r="7.5"/>
<circle cx="356" cy="597.4" r="7.5"/>
</g>
<text x="56.9" y="369.3" font-size="8" font-weight="bold" fill="#1a1a1a" stroke="#1a1a1a" stroke-width="0.15" textLength="21.9" lengthAdjust="spacingAndGlyphs">SALL3</text>
<text x="93.1" y="362.4" font-size="8" font-weight="bold" fill="#1a1a1a" stroke="#1a1a1a" stroke-width="0.15" textLength="34.7" lengthAdjust="spacingAndGlyphs">SMARCA4</text>
<text x="141.8" y="373.9" font-size="8" font-weight="bold" fill="#1a1a1a" stroke="#1a1a1a" stroke-width="0.15" textLength="19" lengthAdjust="spacingAndGlyphs">MLL3</text>
<text x="55.1" y="416.2" font-size="8" font-weight="bold" fill="#1a1a1a" stroke="#1a1a1a" stroke-width="0.15" textLength="24.4" lengthAdjust="spacingAndGlyphs">WHSC1</text>
<text x="161.9" y="410.6" font-size="8" font-weight="bold" fill="#1a1a1a" stroke="#1a1a1a" stroke-width="0.15" textLength="19.1" lengthAdjust="spacingAndGlyphs">MLL2</text>
<text x="256.5" y="364.6" font-size="8" font-weight="bold" fill="#1a1a1a" stroke="#1a1a1a" stroke-width="0.15" textLength="27.3" lengthAdjust="spacingAndGlyphs">PLXNB3</text>
<text x="205.2" y="384.8" font-size="8" font-weight="bold" fill="#1a1a1a" stroke="#1a1a1a" stroke-width="0.15" textLength="29" lengthAdjust="spacingAndGlyphs">NOTCH1</text>
<text x="313.1" y="403.5" font-size="8" font-weight="bold" fill="#1a1a1a" stroke="#1a1a1a" stroke-width="0.15" textLength="30.3" lengthAdjust="spacingAndGlyphs">CTNNA2</text>
<text x="340.3" y="421.5" font-size="8" font-weight="bold" fill="#1a1a1a" stroke="#1a1a1a" stroke-width="0.15" textLength="25.1" lengthAdjust="spacingAndGlyphs">ROBO2</text>
<text x="250.8" y="455.7" font-size="8" font-weight="bold" fill="#1a1a1a" stroke="#1a1a1a" stroke-width="0.15" textLength="19.2" lengthAdjust="spacingAndGlyphs">ANK2</text>
<text x="175.4" y="471.6" font-size="8" font-weight="bold" fill="#1a1a1a" stroke="#1a1a1a" stroke-width="0.15" textLength="16.8" lengthAdjust="spacingAndGlyphs">TP53</text>
<text x="92.4" y="481.5" font-size="8" font-weight="bold" fill="#1a1a1a" stroke="#1a1a1a" stroke-width="0.15" textLength="18" lengthAdjust="spacingAndGlyphs">POT1</text>
<text x="60.1" y="522.6" font-size="8" font-weight="bold" fill="#1a1a1a" stroke="#1a1a1a" stroke-width="0.15" textLength="25.4" lengthAdjust="spacingAndGlyphs">SMC1A</text>
<text x="144.5" y="535.8" font-size="8" font-weight="bold" fill="#1a1a1a" stroke="#1a1a1a" stroke-width="0.15" textLength="12" lengthAdjust="spacingAndGlyphs">RB1</text>
<text x="142" y="597.3" font-size="8" font-weight="bold" fill="#1a1a1a" stroke="#1a1a1a" stroke-width="0.15" textLength="15.2" lengthAdjust="spacingAndGlyphs">ATM</text>
<text x="198.8" y="597.3" font-size="8" font-weight="bold" fill="#1a1a1a" stroke="#1a1a1a" stroke-width="0.15" textLength="24.7" lengthAdjust="spacingAndGlyphs">CCND1</text>
<text x="296.7" y="578.5" font-size="8" font-weight="bold" fill="#1a1a1a" stroke="#1a1a1a" stroke-width="0.15" textLength="18.1" lengthAdjust="spacingAndGlyphs">DLC1</text>
<text x="309.2" y="510.6" font-size="8" font-weight="bold" fill="#1a1a1a" stroke="#1a1a1a" stroke-width="0.15" textLength="32" lengthAdjust="spacingAndGlyphs">COL11A1</text>
<text x="380" y="485" font-size="8" font-weight="bold" fill="#1a1a1a" stroke="#1a1a1a" stroke-width="0.15" textLength="20" lengthAdjust="spacingAndGlyphs">CDH8</text>
<text x="414.6" y="458.8" font-size="8" font-weight="bold" fill="#1a1a1a" stroke="#1a1a1a" stroke-width="0.15" textLength="19.2" lengthAdjust="spacingAndGlyphs">BIRC3</text>
<text x="414.6" y="529.5" font-size="8" font-weight="bold" fill="#1a1a1a" stroke="#1a1a1a" stroke-width="0.15" textLength="32.3" lengthAdjust="spacingAndGlyphs">COL16A1</text>
<text x="401.7" y="586.5" font-size="8" font-weight="bold" fill="#1a1a1a" stroke="#1a1a1a" stroke-width="0.15" textLength="16.2" lengthAdjust="spacingAndGlyphs">FAT4</text>
<text x="314.8" y="600" font-size="8" font-weight="bold" fill="#1a1a1a" stroke="#1a1a1a" stroke-width="0.15" textLength="30.4" lengthAdjust="spacingAndGlyphs">PCDHB2</text>
</svg></body></html>
